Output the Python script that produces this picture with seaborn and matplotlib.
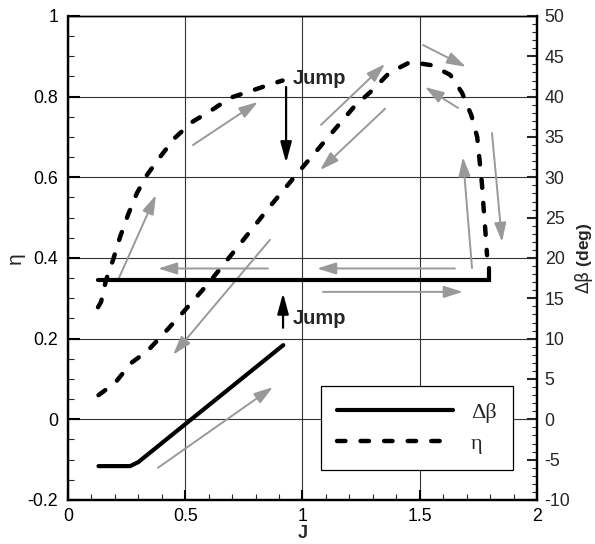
import matplotlib
matplotlib.use("Agg")
import matplotlib.pyplot as plt
import numpy as np
import pandas as pd
import seaborn as sns
from matplotlib.ticker import MultipleLocator, FuncFormatter
from matplotlib.patches import ArrowStyle

# ---------------- data ----------------
# eta, lower (rising then falling) branch
eta_low_J = [0.13, 0.20, 0.27, 0.34, 0.42, 0.49, 0.60, 0.73, 0.86, 0.98, 1.10, 1.22,
             1.30, 1.37, 1.46, 1.55, 1.63, 1.68, 1.72, 1.745, 1.755, 1.765, 1.772, 1.779, 1.787]
eta_low = [0.06, 0.09, 0.14, 0.17, 0.22, 0.265, 0.338, 0.432, 0.527, 0.611, 0.693, 0.775,
           0.817, 0.859, 0.886, 0.878, 0.854, 0.81, 0.754, 0.70, 0.643, 0.586, 0.527, 0.474, 0.407]
# eta, upper branch (before the jump)
eta_high_J = [0.128, 0.141, 0.162, 0.192, 0.222, 0.256, 0.294, 0.337, 0.392, 0.456,
              0.529, 0.614, 0.691, 0.789, 0.86, 0.915]
eta_high = [0.278, 0.291, 0.345, 0.395, 0.452, 0.507, 0.561, 0.606, 0.650, 0.698,
            0.737, 0.767, 0.797, 0.816, 0.83, 0.84]
# delta beta (deg)
dbeta_low_J = [0.13, 0.265, 0.30, 0.50, 0.918]
dbeta_low = [-5.8, -5.8, -5.3, -0.6, 9.2]
dbeta_high_J = [1.797, 1.797, 0.13]
dbeta_high = [18.8, 17.3, 17.3]

# grey direction arrows (J, eta): start -> tip
grey_start_J = [0.533, 0.213, 0.853, 0.861, 0.384, 1.079, 1.352, 1.514, 1.663, 1.723, 1.808, 1.650, 1.087]
grey_start_eta = [0.680, 0.345, 0.374, 0.445, -0.120, 0.730, 0.770, 0.928, 0.772, 0.375, 0.710, 0.374, 0.316]
grey_end_J = [0.810, 0.375, 0.384, 0.448, 0.874, 1.352, 1.075, 1.697, 1.522, 1.684, 1.851, 1.062, 1.684]
grey_end_eta = [0.787, 0.556, 0.374, 0.160, 0.080, 0.881, 0.618, 0.874, 0.824, 0.650, 0.440, 0.374, 0.316]

# "Jump" arrows (J, eta)
jump_start_J = [0.930, 0.917]
jump_start_eta = [0.824, 0.227]
jump_end_J = [0.930, 0.917]
jump_end_eta = [0.636, 0.313]
jump_text_J = [0.96, 0.96]
jump_text_eta = [0.845, 0.251]
jump_labels = ["Jump", "Jump"]

x_ticks = [0, 0.5, 1, 1.5, 2]
eta_ticks = [-0.2, 0, 0.2, 0.4, 0.6, 0.8, 1]
dbeta_ticks = list(range(-10, 55, 5))

# ---------------- style ----------------
sns.set_style("ticks")
plt.rcParams["font.family"] = ["Liberation Sans", "DejaVu Sans"]
plt.rcParams["axes.unicode_minus"] = False
plt.rcParams["mathtext.fontset"] = "dejavusans"

fig = plt.figure(figsize=(5.95, 5.44), dpi=100)
ax = fig.add_axes([0.1143, 0.0809, 0.7882, 0.8897])
ax2 = ax.twinx()

eta_df = pd.DataFrame({
    "J": eta_low_J + eta_high_J,
    "eta": eta_low + eta_high,
    "seg": ["low"] * len(eta_low_J) + ["high"] * len(eta_high_J),
})
db_df = pd.DataFrame({
    "J": dbeta_low_J + dbeta_high_J,
    "dbeta": dbeta_low + dbeta_high,
    "seg": ["low"] * len(dbeta_low_J) + ["high"] * len(dbeta_high_J),
})

sns.lineplot(data=eta_df, x="J", y="eta", units="seg", estimator=None, sort=False,
             color="black", lw=3.2, linestyle=(0, (1.9, 3.4)), dash_capstyle="round",
             ax=ax, legend=False)
sns.lineplot(data=db_df, x="J", y="dbeta", units="seg", estimator=None, sort=False,
             color="black", lw=3.0, solid_capstyle="round", solid_joinstyle="miter",
             ax=ax2, legend=False)

# grey arrows
grey_style = ArrowStyle("-|>", head_length=1.15, head_width=0.36)
for sx, sy, ex, ey in zip(grey_start_J, grey_start_eta, grey_end_J, grey_end_eta):
    ax.annotate("", xy=(ex, ey), xytext=(sx, sy),
                arrowprops=dict(arrowstyle=grey_style, color="#999999", lw=1.4,
                                mutation_scale=10, shrinkA=0, shrinkB=0), zorder=3)
black_style = ArrowStyle("-|>", head_length=1.25, head_width=0.34)
for sx, sy, ex, ey in zip(jump_start_J, jump_start_eta, jump_end_J, jump_end_eta):
    ax.annotate("", xy=(ex, ey), xytext=(sx, sy),
                arrowprops=dict(arrowstyle=black_style, color="black", lw=1.6,
                                mutation_scale=10, shrinkA=0, shrinkB=0), zorder=4)
for tx, ty, t in zip(jump_text_J, jump_text_eta, jump_labels):
    ax.text(tx, ty, t, fontsize=14.5, fontweight="bold", ha="left", va="center")

# axes
ax.set_xlim(0, 2)
ax.set_ylim(-0.2, 1)
ax2.set_ylim(-10, 50)
ax.set_xticks(x_ticks)
ax.set_yticks(eta_ticks)
ax2.set_yticks(dbeta_ticks)
ax.xaxis.set_minor_locator(MultipleLocator(0.1))
ax.yaxis.set_minor_locator(MultipleLocator(0.05))
ax2.yaxis.set_minor_locator(MultipleLocator(1))
fmt = FuncFormatter(lambda v, p: "%g" % round(v, 3))
ax.xaxis.set_major_formatter(fmt)
ax.yaxis.set_major_formatter(fmt)
ax2.yaxis.set_major_formatter(fmt)

ax.grid(True, which="major", color="#333333", lw=0.8)
ax.set_axisbelow(True)

ax.tick_params(axis="both", which="major", direction="in", length=8.5, width=1.5,
               labelsize=12.8, colors="black", top=False, right=False)
ax.tick_params(axis="both", which="minor", direction="in", length=4.3, width=0.8,
               top=False, right=False)
ax.tick_params(axis="y", which="major", pad=7)
ax.tick_params(axis="x", which="major", pad=5.5, length=7.5)
ax2.tick_params(axis="y", which="major", direction="in", length=7.5, width=1.5,
                labelsize=12.8, pad=5.5, left=False, right=True)
ax2.tick_params(axis="y", which="minor", direction="in", length=3.8, width=0.8,
                left=False, right=True)

for s in ["left", "bottom", "right"]:
    ax.spines[s].set_linewidth(1.6)
    ax2.spines[s].set_linewidth(1.6)
ax.spines["top"].set_linewidth(1.0)
ax2.spines["top"].set_linewidth(1.0)
for a in (ax, ax2):
    for s in a.spines.values():
        s.set_color("black")

ax.set_xlabel("J", fontsize=13, fontweight="bold", labelpad=0)
ax.set_ylabel("η", fontsize=15, labelpad=2)
ax2.set_ylabel(r"$\mathrm{\Delta\beta}$ (deg)", fontsize=12.5, fontweight="bold", labelpad=2)

# legend
h_db = ax2.get_lines()[0]
h_eta = ax.get_lines()[0]
leg = ax2.legend([h_db, h_eta], ["Δβ", "η"], loc="upper left",
                 bbox_to_anchor=(0.539, 0.236), borderaxespad=0,
                 prop={"family": "Liberation Serif", "size": 16},
                 handlelength=5.2, handletextpad=0.8, borderpad=0.75,
                 labelspacing=0.45, frameon=True, fancybox=False, framealpha=1,
                 edgecolor="black")
leg.get_frame().set_linewidth(0.9)

fig.savefig("out.png", dpi=100)
